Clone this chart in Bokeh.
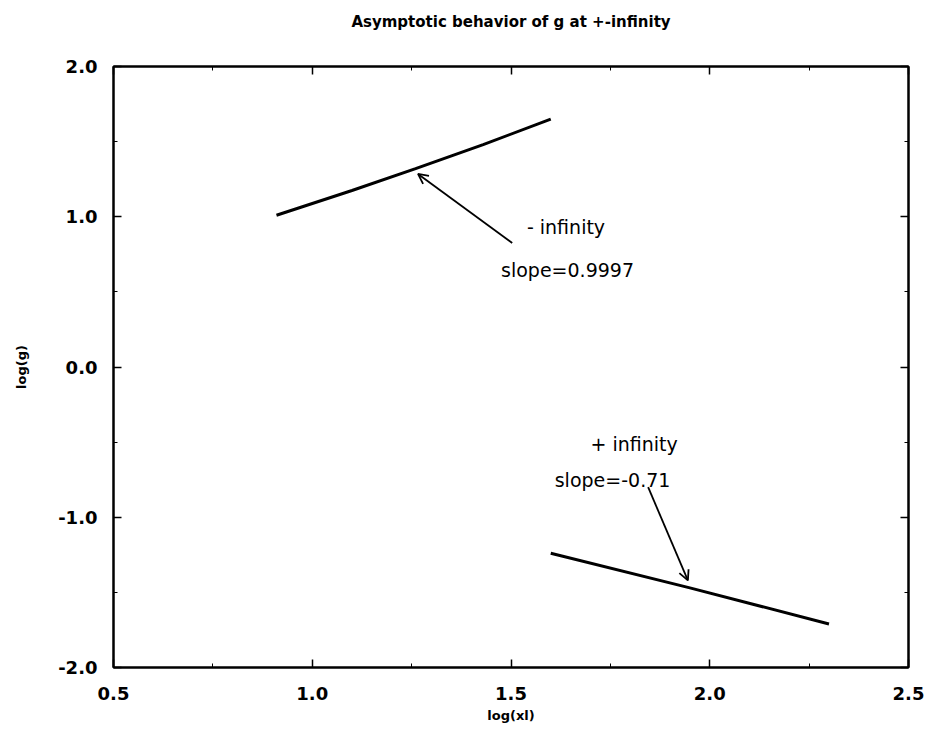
from bokeh.plotting import figure
from bokeh.models import (Range1d, FixedTicker, LinearAxis, Arrow, OpenHead,
                          ColumnDataSource, Title, CustomJSTickFormatter)
from bokeh.core.properties import value
from bokeh.embed import file_html
from bokeh.resources import INLINE

# data: asymptotic lines
minus_x = [0.91, 1.10, 1.26, 1.43, 1.60]
minus_y = [1.01, 1.175, 1.32, 1.48, 1.65]
plus_x = [1.60, 1.95, 2.30]
plus_y = [-1.24, -1.47, -1.71]

# annotations
title_text = "Asymptotic behavior of g at +-infinity"
label_text = ["- infinity", "slope=0.9997", "+ infinity", "slope=-0.71"]
label_x = [1.54, 1.475, 1.70, 1.61]
label_y = [0.935, 0.645, -0.51, -0.75]
arrow_start_x = [1.503, 1.845]
arrow_start_y = [0.825, -0.80]
arrow_end_x = [1.266, 1.945]
arrow_end_y = [1.285, -1.42]

x_ticks = [0.5, 1.0, 1.5, 2.0, 2.5]
x_minor = [0.75, 1.25, 1.75, 2.25]
y_ticks = [-2.0, -1.0, 0.0, 1.0, 2.0]
y_minor = [-1.5, -0.5, 0.5, 1.5]

FONT = "DejaVu Sans"

p = figure(width=929, height=729, output_backend="svg", toolbar_location=None,
           x_range=Range1d(0.5, 2.5), y_range=Range1d(-2.0, 2.0),
           min_border_left=113, min_border_right=21, min_border_top=66,
           min_border_bottom=62)
p.xgrid.visible = False
p.ygrid.visible = False
p.outline_line_color = "black"
p.outline_line_width = 2
p.background_fill_color = "white"
p.border_fill_color = "white"

p.title = Title(text=title_text, align="center", vertical_align="top",
                text_font=FONT, text_font_size="15px", text_font_style="bold",
                text_color="black", standoff=10)


def style(ax, ticks, minor, labels=True):
    ax.ticker = FixedTicker(ticks=ticks, minor_ticks=minor)
    ax.major_tick_in = 8
    ax.major_tick_out = 0
    ax.minor_tick_in = 4
    ax.minor_tick_out = 0
    ax.axis_line_color = "black"
    ax.axis_line_width = 2
    ax.major_tick_line_color = "black"
    ax.minor_tick_line_color = "black"
    ax.major_tick_line_width = 1.5
    ax.major_label_text_font = FONT
    ax.major_label_text_font_size = "18px"
    ax.major_label_text_font_style = "bold"
    ax.major_label_text_color = "black"
    ax.axis_label_text_font = FONT
    ax.axis_label_text_font_size = "13px"
    ax.axis_label_text_font_style = "bold"
    ax.axis_label_text_color = "black"
    if labels:
        ax.formatter = CustomJSTickFormatter(code="return tick.toFixed(1);")
    else:
        ax.major_label_overrides = {t: "" for t in ticks}


xa = p.xaxis[0]
ya = p.yaxis[0]
style(xa, x_ticks, x_minor)
style(ya, y_ticks, y_minor)
xa.axis_label = "log(xl)"
ya.axis_label = "log(g)"
xa.major_label_standoff = 19
ya.major_label_standoff = 16
xa.axis_label_standoff = 5
ya.axis_label_standoff = 26

top = LinearAxis()
right = LinearAxis()
style(top, x_ticks, x_minor, labels=False)
style(right, y_ticks, y_minor, labels=False)
top.major_label_overrides = {t: " " for t in x_ticks}
top.major_label_standoff = 5
p.add_layout(top, "above")
p.add_layout(right, "right")

p.line(minus_x, minus_y, line_color="black", line_width=3)
p.line(plus_x, plus_y, line_color="black", line_width=3)

for sx, sy, ex, ey in zip(arrow_start_x, arrow_start_y, arrow_end_x, arrow_end_y):
    p.add_layout(Arrow(x_start=sx, y_start=sy, x_end=ex, y_end=ey,
                       line_color="black", line_width=1.8,
                       end=OpenHead(size=10, line_color="black", line_width=1.8)))

src = ColumnDataSource(dict(x=label_x, y=label_y, t=label_text))
p.text(x="x", y="y", text="t", source=src, text_font=value(FONT),
       text_font_size="19px", text_baseline="middle", text_align="left",
       text_color="black")

open("out.html", "w").write(file_html(p, INLINE))
